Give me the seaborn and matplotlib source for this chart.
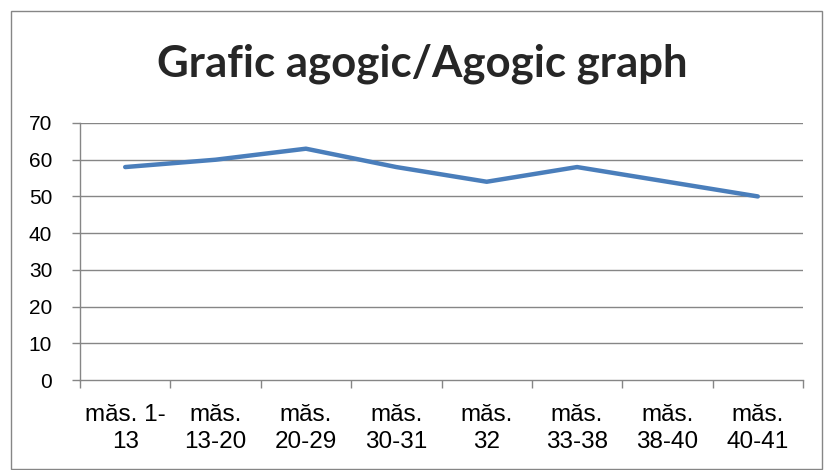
import matplotlib
matplotlib.use("Agg")
import matplotlib.pyplot as plt
import seaborn as sns
import pandas as pd
import numpy as np
from matplotlib.patches import Rectangle

categories = ["măs. 1-\n13", "măs.\n13-20", "măs.\n20-29", "măs.\n30-31",
              "măs.\n32", "măs.\n33-38", "măs.\n38-40", "măs.\n40-41"]
values = [58, 60, 63, 58, 54, 58, 54, 50]
yticks = [0, 10, 20, 30, 40, 50, 60, 70]
title = "Grafic agogic/Agogic graph"

sns.set_theme(style="white")
plt.rcParams['font.family'] = ['Liberation Sans', 'DejaVu Sans']

df = pd.DataFrame({"cat": categories, "val": values})

fig = plt.figure(figsize=(8.24, 4.70), dpi=100)
ax = fig.add_axes([80/824, 1 - 380/470, (803-80)/824, (380-123)/470])

sns.lineplot(data=df, x="cat", y="val", ax=ax, color="#4A7EBB", linewidth=3.2,
             sort=False, solid_capstyle="round")

ax.set_xlim(-0.5, len(categories) - 0.5)
ax.set_ylim(0, 70)
ax.set_yticks(yticks)
ax.set_xlabel("")
ax.set_ylabel("")

grid_c = "#868686"
ax.grid(False)
for y in yticks[1:]:
    ax.axhline(y, color=grid_c, lw=1.0, zorder=0)

for s in ["top", "right"]:
    ax.spines[s].set_visible(False)
for s in ["left", "bottom"]:
    ax.spines[s].set_color(grid_c)
    ax.spines[s].set_linewidth(1.0)

ax.set_xticks(range(len(categories)))
ax.set_xticklabels(categories, fontsize=17.5, linespacing=1.3)
ax.set_xticks(np.arange(-0.5, len(categories), 1.0), minor=True)
ax.tick_params(axis="x", which="major", bottom=True, length=0, pad=17, labelcolor="black")
ax.tick_params(axis="x", which="minor", bottom=True, length=6, width=1.0,
               color=grid_c, direction="out")
ax.tick_params(axis="y", which="major", left=True, length=6, width=1.0, color=grid_c,
               direction="out", labelsize=15, pad=14, labelcolor="black")

fig.text(422/824, 1 - 76/470, title, ha="center", va="baseline",
         fontsize=31.5, fontweight="bold", family=["Lato", "DejaVu Sans"])

fig.patches.append(Rectangle((11/824, 1 - 469/470), (822-11)/824, (469-11)/470,
                             transform=fig.transFigure, fill=False,
                             edgecolor="#868686", linewidth=1.0))

fig.savefig("out.png", dpi=100)
